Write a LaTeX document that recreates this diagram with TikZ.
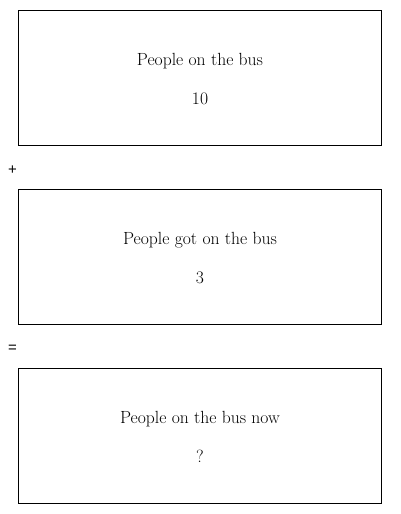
\documentclass[tikz,border=0pt]{standalone}
\usepackage{fontspec}
\newfontfamily\opfont{Liberation Sans}
\begin{document}
\begin{tikzpicture}[x=1pt,y=-1pt,
  panel/.style={draw=black,line width=1pt,minimum width=363pt,minimum height=135pt,inner sep=0pt,anchor=north west},
  label/.style={font=\fontsize{17.6}{20}\selectfont,anchor=base},
  op/.style={font=\opfont\fontsize{15}{17}\selectfont}]
\useasboundingbox (0,0) rectangle (400,514);
\node[panel] (b1) at (18,10) {};
\node[panel] (b2) at (18,189) {};
\node[panel] (b3) at (18,368) {};
\node[label] (t1) at (200,65) {People on the bus};
\node[label] (n1) at (200,104) {10};
\node[label] (t2) at (200,244) {People got on the bus};
\node[label] (n2) at (200,283) {3};
\node[label] (t3) at (200,423) {People on the bus now};
\node[label] (n3) at (200,462) {?};
\node[op] (plus) at (12.5,170) {+};
\node[op] (eq) at (12.5,349) {=};
\end{tikzpicture}
\end{document}
